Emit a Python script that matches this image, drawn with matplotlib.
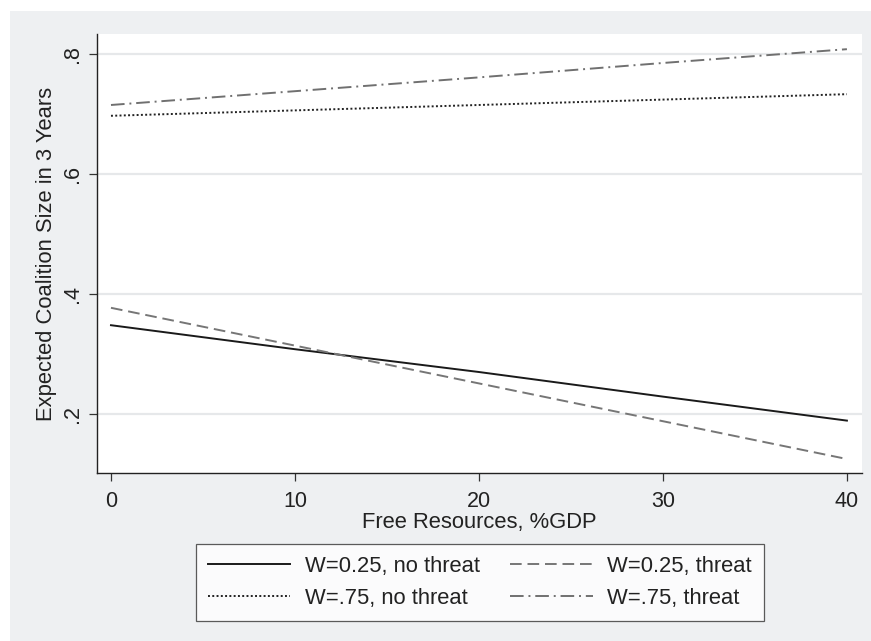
import matplotlib
matplotlib.use("Agg")
import matplotlib.pyplot as plt
from matplotlib.patches import Rectangle

plt.rcParams['font.family'] = ['Liberation Sans', 'DejaVu Sans']

# values
resources = [0, 10, 20, 30, 40]
w25_no_threat = [0.348, 0.308, 0.270, 0.229, 0.189]
w25_threat = [0.377, 0.314, 0.251, 0.188, 0.125]
w75_no_threat = [0.697, 0.706, 0.715, 0.724, 0.733]
w75_threat = [0.715, 0.738, 0.761, 0.785, 0.808]

x_ticks = [0, 10, 20, 30, 40]
y_ticks = [0.2, 0.4, 0.6, 0.8]
y_ticklabels = ['.2', '.4', '.6', '.8']

W, H = 871, 641
fs = 15.8
fig = plt.figure(figsize=(W / 100, H / 100), dpi=100)
fig.patch.set_facecolor('white')

# grey graph region, offset like the reference
fig.patches.append(Rectangle((10 / W, 0), 1 - 10 / W, 1 - 11 / H,
                             transform=fig.transFigure, facecolor='#eef0f2',
                             edgecolor='none', zorder=-10))

ax = fig.add_axes([97 / W, 1 - 473 / H, (862 - 97) / W, (473 - 34) / H])
ax.set_zorder(1)
ax.set_facecolor('white')

lw = 1.4
l1, = ax.plot(resources, w25_no_threat, color='#1a1a1a', lw=lw, label='W=0.25, no threat')
l2, = ax.plot(resources, w25_threat, color='#767676', lw=lw, dashes=(6, 3), label='W=0.25, threat')
l3, = ax.plot(resources, w75_no_threat, color='#222222', lw=lw, dashes=(1, 1.2), label='W=.75, no threat')
l4, = ax.plot(resources, w75_threat, color='#707070', lw=lw, dashes=(7, 2.5, 1, 2.5), label='W=.75, threat')

ax.set_xlim(-0.76, 40.82)
ax.set_ylim(0.1017, 0.8333)

ax.set_xticks(x_ticks)
ax.set_yticks(y_ticks)
ax.set_yticklabels(y_ticklabels, rotation=90, va='center')
ax.grid(axis='y', color='#e6e8ea', lw=1.6, zorder=0)
ax.set_axisbelow(True)

for s in ['top', 'right']:
    ax.spines[s].set_visible(False)
for s in ['left', 'bottom']:
    ax.spines[s].set_color('#222222')
    ax.spines[s].set_linewidth(1.0)

ax.tick_params(axis='both', direction='out', length=6, width=0.9,
               color='#333333', labelsize=15.5, labelcolor='#222222')
ax.tick_params(axis='x', pad=7)
ax.tick_params(axis='y', pad=4)

ax.set_xlabel('Free Resources, %GDP', fontsize=fs, color='#222222', labelpad=0)
ax.set_ylabel('Expected Coalition Size in 3 Years', fontsize=fs, color='#222222', labelpad=4)

# row-major order like the reference legend
leg = ax.legend([l1, l3, l2, l4], [l.get_label() for l in (l1, l3, l2, l4)],
                ncol=2, loc='upper left', bbox_to_anchor=(196 / W, 1 - 544 / H),
                bbox_transform=fig.transFigure, borderaxespad=0, fontsize=fs,
                frameon=True, fancybox=False, edgecolor='#333333',
                handlelength=3.75, handletextpad=0.65, columnspacing=1.4,
                borderpad=0.55, labelspacing=0.5)
leg.get_frame().set_linewidth(0.9)
for t in leg.get_texts():
    t.set_color('#222222')

fig.savefig('out.png', dpi=100, facecolor=fig.get_facecolor())
